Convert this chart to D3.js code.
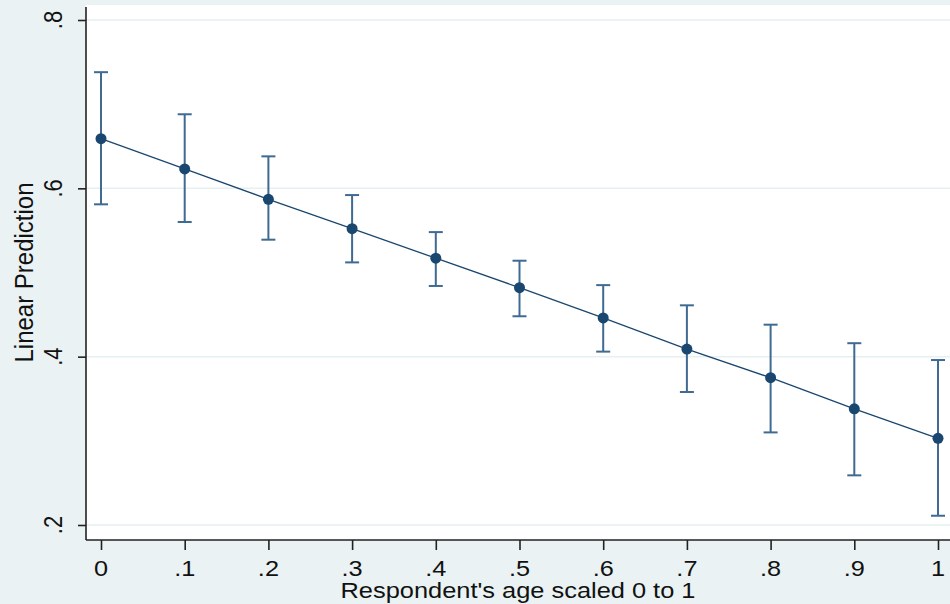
<!DOCTYPE html>
<html>
<head>
<meta charset="utf-8">
<script src="https://cdn.jsdelivr.net/npm/d3@7"></script>
<style>
  body { margin: 0; background: #eaf2f3; }
  text { font-family: "Liberation Sans", Arial, sans-serif; fill: #111; }
</style>
</head>
<body>
<div id="chart"></div>
<script>
// age scaled 0..1, linear prediction with 95% CI
var ages = [0, 0.1, 0.2, 0.3, 0.4, 0.5, 0.6, 0.7, 0.8, 0.9, 1];
var predicted = [0.659, 0.623, 0.587, 0.552, 0.517, 0.482, 0.446, 0.409, 0.375, 0.338, 0.303];
var ciLower = [0.581, 0.560, 0.539, 0.512, 0.484, 0.448, 0.406, 0.358, 0.310, 0.259, 0.211];
var ciUpper = [0.738, 0.688, 0.638, 0.592, 0.548, 0.514, 0.485, 0.461, 0.438, 0.416, 0.396];
var xTicks = [0, 0.1, 0.2, 0.3, 0.4, 0.5, 0.6, 0.7, 0.8, 0.9, 1];
var xTickLabels = ["0", ".1", ".2", ".3", ".4", ".5", ".6", ".7", ".8", ".9", "1"];
var yTicks = [0.2, 0.4, 0.6, 0.8];
var yTickLabels = [".2", ".4", ".6", ".8"];

var W = 950, H = 604,
    margin = { top: 5, right: 0, bottom: 64, left: 86 },
    plotW = W - margin.left - margin.right,
    plotH = H - margin.top - margin.bottom,
    navy = "#1a476f",
    barColor = "#3f6a92",
    grid = "#e6eff1";

var svg = d3.select("#chart").append("svg")
    .attr("width", W)
    .attr("height", H);

svg.append("rect")
    .attr("width", W).attr("height", H)
    .attr("fill", "#eaf2f3");

var g = svg.append("g")
    .attr("transform", "translate(" + margin.left + "," + margin.top + ")");

g.append("rect")
    .attr("width", plotW).attr("height", plotH)
    .attr("fill", "#fff");

var x = d3.scaleLinear().domain([0, 1]).range([15, plotW - 12]);
var y = d3.scaleLinear().domain([0.2, 0.8]).range([520, 15]);

// gridlines
g.selectAll(".grid")
    .data(yTicks)
    .enter().append("line")
    .attr("x1", 0).attr("x2", plotW)
    .attr("y1", function (d) { return y(d); })
    .attr("y2", function (d) { return y(d); })
    .attr("stroke", grid)
    .attr("stroke-width", 1.5);

// y axis
var yAxis = g.append("g")
    .call(d3.axisLeft(y).tickValues(yTicks).tickSize(8).tickFormat(""));
yAxis.select(".domain").attr("d", "M0,2V" + plotH).attr("stroke", "#222").attr("stroke-width", 1.6);
yAxis.selectAll(".tick line").attr("stroke", "#222").attr("stroke-width", 1.6);

g.selectAll(".ylab")
    .data(yTicks)
    .enter().append("text")
    .attr("transform", function (d) {
        return "translate(-24," + y(d) + ") scale(1.2,1) rotate(-90)";
    })
    .attr("text-anchor", "middle")
    .style("font-size", "22px")
    .text(function (d, i) { return yTickLabels[i]; });

// x axis
var xAxis = g.append("g")
    .attr("transform", "translate(0," + plotH + ")")
    .call(d3.axisBottom(x).tickValues(xTicks).tickSize(10).tickFormat(""));
xAxis.select(".domain").attr("d", "M0,0H" + plotW).attr("stroke", "#222").attr("stroke-width", 1.6);
xAxis.selectAll(".tick line").attr("stroke", "#222").attr("stroke-width", 1.6);

g.selectAll(".xlab")
    .data(xTicks)
    .enter().append("text")
    .attr("transform", function (d) {
        return "translate(" + x(d) + "," + (plotH + 36) + ") scale(1.15,1)";
    })
    .attr("text-anchor", "middle")
    .style("font-size", "22px")
    .text(function (d, i) { return xTickLabels[i]; });

// titles
svg.append("text")
    .attr("transform", "translate(" + (margin.left + plotW / 2) + ",598) scale(1.155,1)")
    .attr("text-anchor", "middle")
    .style("font-size", "22px")
    .text("Respondent's age scaled 0 to 1");

svg.append("text")
    .attr("transform", "translate(33," + (margin.top + plotH / 2) + ") scale(1.05,1) rotate(-90)")
    .attr("text-anchor", "middle")
    .style("font-size", "24px")
    .text("Linear Prediction");

// confidence intervals
var bars = g.selectAll(".ci")
    .data(ages)
    .enter().append("g")
    .attr("stroke", barColor)
    .attr("stroke-width", 2);

bars.append("line")
    .attr("x1", function (d) { return x(d); })
    .attr("x2", function (d) { return x(d); })
    .attr("y1", function (d, i) { return y(ciLower[i]); })
    .attr("y2", function (d, i) { return y(ciUpper[i]); });

bars.append("line")
    .attr("x1", function (d) { return x(d) - 7; })
    .attr("x2", function (d) { return x(d) + 7; })
    .attr("y1", function (d, i) { return y(ciUpper[i]); })
    .attr("y2", function (d, i) { return y(ciUpper[i]); });

bars.append("line")
    .attr("x1", function (d) { return x(d) - 7; })
    .attr("x2", function (d) { return x(d) + 7; })
    .attr("y1", function (d, i) { return y(ciLower[i]); })
    .attr("y2", function (d, i) { return y(ciLower[i]); });

// prediction line + markers
var line = d3.line()
    .x(function (d) { return x(d); })
    .y(function (d, i) { return y(predicted[i]); });

g.append("path")
    .datum(ages)
    .attr("d", line)
    .attr("fill", "none")
    .attr("stroke", navy)
    .attr("stroke-width", 1.3);

g.selectAll(".pt")
    .data(ages)
    .enter().append("circle")
    .attr("cx", function (d) { return x(d); })
    .attr("cy", function (d, i) { return y(predicted[i]); })
    .attr("r", 5.5)
    .attr("fill", navy);
</script>
</body>
</html>
